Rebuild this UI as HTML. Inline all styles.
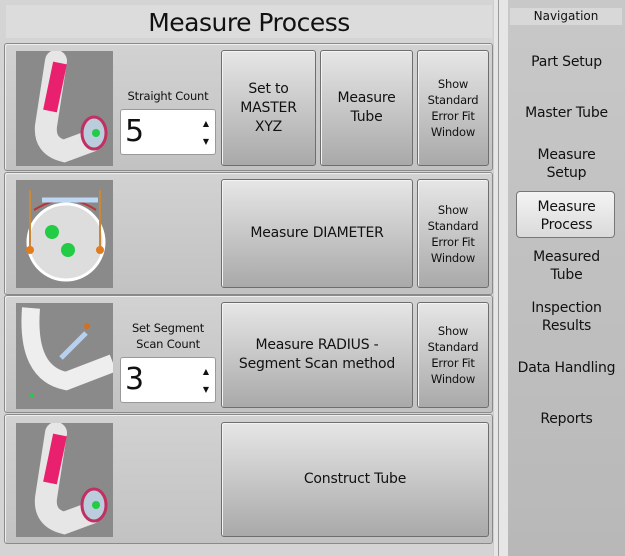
<!DOCTYPE html>
<html><head><meta charset="utf-8"><style>
*{box-sizing:border-box;margin:0;padding:0}
body{width:625px;height:556px;background:#d4d4d4;font-family:"DejaVu Sans","Liberation Sans",sans-serif;color:#111;position:relative;overflow:hidden}
.abs{position:absolute}
.title{left:6px;top:5px;width:486px;height:33px;background:#dcdcdc;text-align:center;font-size:25px;line-height:36px;letter-spacing:-0.5px}
.row{left:4px;width:489px;background:linear-gradient(#d2d2d2,#c2c2c2);border:1px solid #8a8a8a;border-radius:3px;box-shadow:inset 1px 1px 0 #eee}
.btn{background:linear-gradient(#e6e6e6,#a9a9a9);border:1px solid #6e6e6e;border-radius:3px;display:flex;align-items:center;justify-content:center;text-align:center;box-shadow:inset 1px 1px 0 #f4f4f4}
.big{font-size:14px;line-height:19px;letter-spacing:-0.2px}
.sm{font-size:11.5px;line-height:16px;letter-spacing:-0.2px}
.img{left:16px;width:97px;background:#8a8a8a;overflow:hidden}
.lbl{font-size:11.5px;text-align:center;line-height:16px;letter-spacing:-0.2px}
.spin{background:#fff;border:1px solid #999;border-radius:3px;font-size:30px;line-height:44px;padding-left:4px}
.spin i{position:absolute;right:6px;font-style:normal;font-size:8px;line-height:8px}
.sep{left:493px;top:0;width:15px;height:556px;background:#e6e6e6;border-left:1px solid #cfcfcf}
.sep2{left:498px;top:0;width:1px;height:556px;background:#9a9a9a}
.nav{left:508px;top:0;width:117px;height:556px;background:linear-gradient(#c8c8c8,#b8b8b8)}
.navt{left:510px;top:8px;width:112px;height:17px;background:#d8d8d8;font-size:12px;text-align:center;line-height:17px}
.ni{left:508px;width:117px;text-align:center;font-size:14px;line-height:18px;letter-spacing:-0.2px}
.sel{left:516px;top:191px;width:99px;height:47px;background:linear-gradient(#f4f4f4,#dadada);border:1px solid #777;border-radius:4px}
</style></head><body>
<div class="abs title">Measure Process</div>

<div class="abs row" style="top:43px;height:128px"></div>
<div class="abs row" style="top:172px;height:123px"></div>
<div class="abs row" style="top:295px;height:118px"></div>
<div class="abs row" style="top:414px;height:130px"></div>

<!-- row1 -->
<div class="abs img" style="top:51px;height:115px">
<svg width="97" height="115"><path d="M40 10 L30 75 Q28 95 48 100 L75 90" stroke="#e6e6e6" stroke-width="22" fill="none" stroke-linecap="round"/><path d="M44 12 L34 60" stroke="#e8206e" stroke-width="14"/><ellipse cx="78" cy="82" rx="12" ry="16" fill="#bcd" stroke="#c03060" stroke-width="3"/><circle cx="80" cy="82" r="4" fill="#2c4"/></svg></div>
<div class="abs lbl" style="left:118px;top:88px;width:100px">Straight Count</div>
<div class="abs spin" style="left:120px;top:109px;width:96px;height:46px">5<i style="top:10px">▲</i><i style="top:28px">▼</i></div>
<div class="abs btn big" style="left:221px;top:50px;width:95px;height:116px">Set to<br>MASTER<br>XYZ</div>
<div class="abs btn big" style="left:320px;top:50px;width:93px;height:116px">Measure<br>Tube</div>
<div class="abs btn sm" style="left:417px;top:50px;width:72px;height:116px">Show<br>Standard<br>Error Fit<br>Window</div>

<!-- row2 -->
<div class="abs img" style="top:180px;height:108px">
<svg width="97" height="108"><circle cx="50" cy="62" r="38" fill="#ddd" stroke="#fff" stroke-width="3"/><path d="M18 30 Q50 10 80 30" stroke="#b33" stroke-width="2" fill="none"/><path d="M26 20 H82" stroke="#bcd8f4" stroke-width="5"/><line x1="14" y1="10" x2="14" y2="70" stroke="#c88a3a" stroke-width="2"/><line x1="84" y1="10" x2="84" y2="70" stroke="#c88a3a" stroke-width="2"/><circle cx="14" cy="70" r="4" fill="#e07b20"/><circle cx="84" cy="70" r="4" fill="#e07b20"/><circle cx="36" cy="52" r="7" fill="#2c4"/><circle cx="52" cy="70" r="7" fill="#2c4"/></svg></div>
<div class="abs btn big" style="left:221px;top:179px;width:192px;height:109px">Measure DIAMETER</div>
<div class="abs btn sm" style="left:417px;top:179px;width:72px;height:109px">Show<br>Standard<br>Error Fit<br>Window</div>

<!-- row3 -->
<div class="abs img" style="top:303px;height:106px">
<svg width="97" height="106"><path d="M15 5 Q10 70 50 78 L97 60" stroke="#eee" stroke-width="18" fill="none"/><path d="M45 55 L70 30" stroke="#b8d0f0" stroke-width="5"/><circle cx="71" cy="23" r="3" fill="#d07020"/><circle cx="16" cy="92" r="2" fill="#2c4"/></svg></div>
<div class="abs lbl" style="left:118px;top:320px;width:100px">Set Segment<br>Scan Count</div>
<div class="abs spin" style="left:120px;top:357px;width:96px;height:46px">3<i style="top:10px">▲</i><i style="top:28px">▼</i></div>
<div class="abs btn big" style="left:221px;top:302px;width:192px;height:106px">Measure RADIUS -<br>Segment Scan method</div>
<div class="abs btn sm" style="left:417px;top:302px;width:72px;height:106px">Show<br>Standard<br>Error Fit<br>Window</div>

<!-- row4 -->
<div class="abs img" style="top:423px;height:114px">
<svg width="97" height="114"><path d="M40 10 L30 75 Q28 95 48 100 L75 90" stroke="#e6e6e6" stroke-width="22" fill="none" stroke-linecap="round"/><path d="M44 12 L34 60" stroke="#e8206e" stroke-width="14"/><ellipse cx="78" cy="82" rx="12" ry="16" fill="#bcd" stroke="#c03060" stroke-width="3"/><circle cx="80" cy="82" r="4" fill="#2c4"/></svg></div>
<div class="abs btn big" style="left:221px;top:422px;width:268px;height:115px">Construct Tube</div>

<div class="abs sep"></div><div class="abs sep2"></div>
<div class="abs nav"></div>
<div class="abs navt">Navigation</div>
<div class="abs ni" style="top:53px">Part Setup</div>
<div class="abs ni" style="top:104px">Master Tube</div>
<div class="abs ni" style="top:146px">Measure<br>Setup</div>
<div class="abs sel"></div>
<div class="abs ni" style="top:198px">Measure<br>Process</div>
<div class="abs ni" style="top:248px">Measured<br>Tube</div>
<div class="abs ni" style="top:299px">Inspection<br>Results</div>
<div class="abs ni" style="top:359px">Data Handling</div>
<div class="abs ni" style="top:410px">Reports</div>
</body></html>
